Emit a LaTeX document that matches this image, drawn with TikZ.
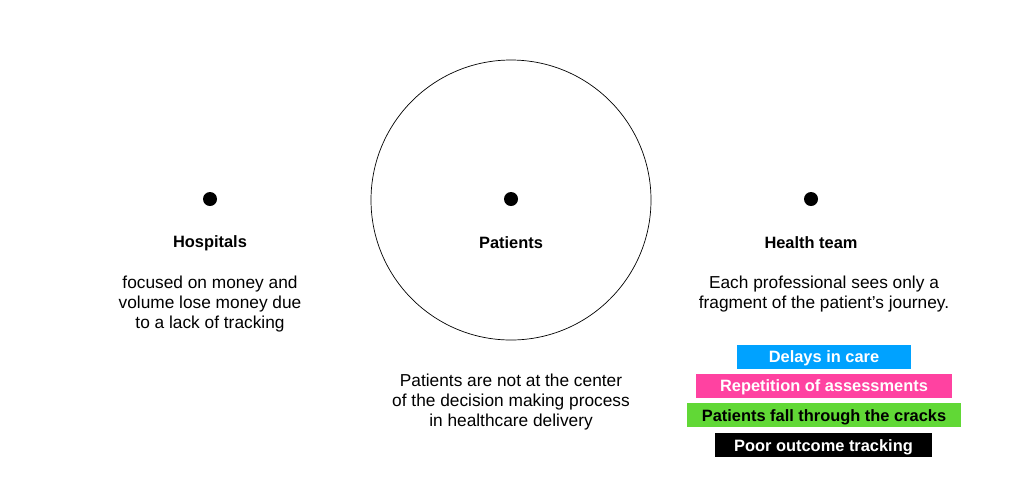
\documentclass[tikz,border=0pt]{standalone}
\usepackage{fontspec}
\setmainfont{Liberation Sans}
\definecolor{barblue}{HTML}{00A2FF}
\definecolor{barpink}{HTML}{FF42A1}
\definecolor{bargreen}{HTML}{61D836}
\begin{document}
\begin{tikzpicture}[x=1pt,y=-1pt,
  dot/.style={circle,fill=black,inner sep=0pt,minimum size=14pt},
  lbl/.style={font=\fontsize{16.4}{20}\selectfont\bfseries,inner sep=0pt},
  body/.style={font=\fontsize{17.3}{20}\selectfont,align=center,inner sep=0pt},
  bar/.style={font=\fontsize{16.4}{20}\selectfont\bfseries,inner sep=0pt,minimum height=24pt,text height=12.4pt,text depth=0pt}]
\useasboundingbox (0,0) rectangle (1024,499);
\node[circle,draw=black,line width=0.7pt,minimum size=280pt,inner sep=0pt] (ring) at (511,200) {};
\node[dot] (d1) at (210,199) {};
\node[dot] (d2) at (511,199) {};
\node[dot] (d3) at (811,199) {};
\node[lbl] (l1) at (210,243) {Hospitals};
\node[lbl] (l2) at (511,243) {Patients};
\node[lbl] (l3) at (811,243) {Health team};
\node[body] (t1) at (210,304) {focused on money and\\volume lose money due\\to a lack of tracking};
\node[body] (t2) at (511,402) {Patients are not at the center\\of the decision making process\\in healthcare delivery};
\node[body] (t3) at (824,294) {Each professional sees only a\\fragment of the patient’s journey.};
\node[bar,fill=barblue,text=white,minimum width=174pt] (b1) at (824,356.5) {Delays in care};
\node[bar,fill=barpink,text=white,minimum width=256pt] (b2) at (824,385.5) {Repetition of assessments};
\node[bar,fill=bargreen,text=black,minimum width=274pt] (b3) at (824,415) {Patients fall through the cracks};
\node[bar,fill=black,text=white,minimum width=217pt] (b4) at (823.5,445) {Poor outcome tracking};
\end{tikzpicture}
\end{document}
